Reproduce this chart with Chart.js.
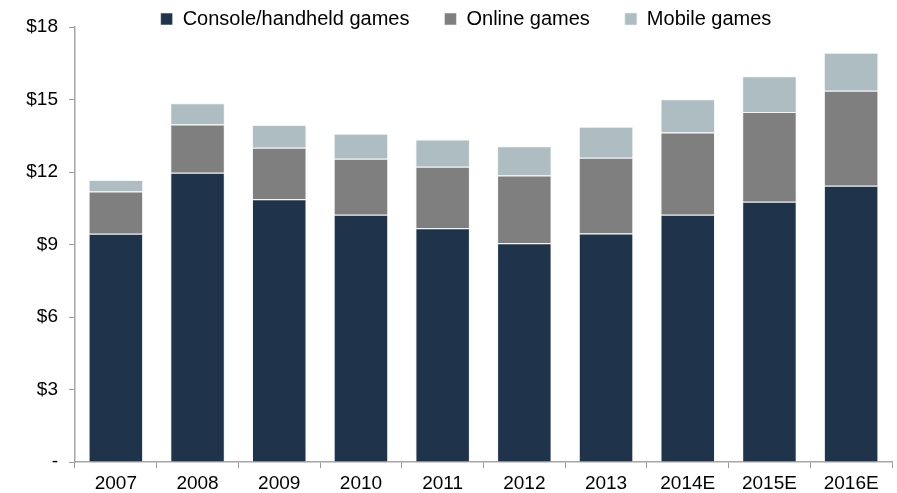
<!DOCTYPE html>
<html>
<head>
<meta charset="utf-8">
<script src="https://cdn.jsdelivr.net/npm/chart.js@4"></script>
<style>
  html, body { margin: 0; padding: 0; background: #fff; }
  #wrap { width: 897px; height: 493px; }
</style>
</head>
<body>
<div id="wrap"><canvas id="gamesChart" width="897" height="493"></canvas></div>
<script>
const years = ["2007", "2008", "2009", "2010", "2011", "2012", "2013", "2014E", "2015E", "2016E"];
const consoleGames = [9.45, 11.97, 10.87, 10.23, 9.67, 9.05, 9.46, 10.23, 10.77, 11.43];
const onlineGames = [1.74, 2.00, 2.13, 2.32, 2.55, 2.81, 3.13, 3.40, 3.71, 3.93];
const mobileGames = [0.48, 0.87, 0.94, 1.03, 1.13, 1.21, 1.28, 1.38, 1.48, 1.57];

const FONT = "'Liberation Sans', Arial, sans-serif";

// legend: wide gaps between items but a short box, so move it up/right when drawing
const legendLayout = {
  id: 'legendLayout',
  beforeInit(chart) {
    const legend = chart.legend;
    const fit = legend.fit;
    const draw = legend.draw;
    legend.fit = function () {
      fit.call(this);
      this.height = 27;
    };
    legend.draw = function () {
      const { top, bottom, left, right } = this;
      this.top = top - 26;
      this.bottom = bottom + 8;
      this.left = left + 20;
      this.right = right + 20;
      draw.call(this);
      this.top = top;
      this.bottom = bottom;
      this.left = left;
      this.right = right;
    };
  }
};

const ds = (label, data, color) => ({
  label,
  data,
  backgroundColor: color,
  borderColor: 'rgba(235,238,240,0.6)',
  borderWidth: 1,
  categoryPercentage: 1,
  barPercentage: 0.667
});

new Chart(document.getElementById("gamesChart"), {
  type: 'bar',
  data: {
    labels: years,
    datasets: [
      ds("Console/handheld games", consoleGames, "#1f344a"),
      ds("Online games", onlineGames, "#7f7f7f"),
      ds("Mobile games", mobileGames, "#adbdc1")
    ]
  },
  options: {
    responsive: false,
    animation: false,
    layout: { padding: { right: 5 } },
    plugins: {
      tooltip: { enabled: false },
      legend: {
        position: 'top',
        labels: {
          boxWidth: 12,
          boxHeight: 12,
          padding: 35,
          color: '#000',
          font: { family: FONT, size: 20 }
        }
      }
    },
    scales: {
      x: {
        stacked: true,
        afterFit: s => { s.height = 31; },
        border: { color: '#a6a6a6', width: 1.5 },
        grid: { drawOnChartArea: false, color: '#999', tickLength: 6 },
        ticks: { color: '#000', padding: 4, font: { family: FONT, size: 19 } }
      },
      y: {
        stacked: true,
        min: 0,
        max: 18,
        afterFit: s => { s.width = 75; },
        border: { color: '#a6a6a6', width: 1.5 },
        grid: { drawOnChartArea: false, color: '#999', tickLength: 6 },
        ticks: {
          stepSize: 3,
          color: '#000',
          padding: 11,
          font: { family: FONT, size: 19 },
          callback: v => v === 0 ? '-' : '$' + v
        }
      }
    }
  },
  plugins: [legendLayout]
});
</script>
</body>
</html>
